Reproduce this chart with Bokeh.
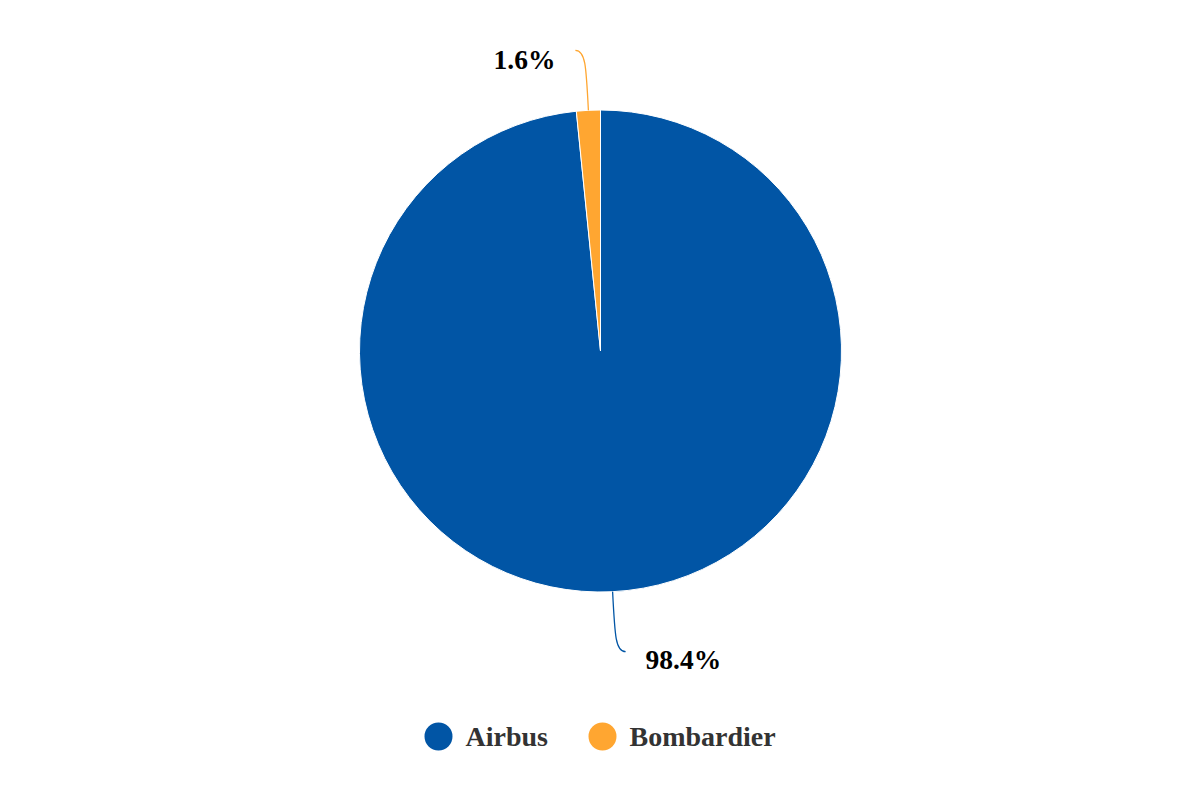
import math
from bokeh.plotting import figure
from bokeh.models import Range1d, ColumnDataSource
from bokeh.core.properties import value
from bokeh.embed import file_html
from bokeh.resources import INLINE

# ---- data ----
categories = ["Airbus", "Bombardier"]
shares = [98.4, 1.6]
colors = ["#0155A5", "#FFA631"]
labels = ["98.4%", "1.6%"]

W, H = 1184, 784
p = figure(width=W, height=H, output_backend="svg", toolbar_location=None,
           x_range=Range1d(0, W), y_range=Range1d(800 - H, 800),
           min_border=0, outline_line_color=None)
p.axis.visible = False
p.grid.visible = False
p.background_fill_color = "white"
p.border_fill_color = "white"

cx, cy = 600, 800 - 350.5
R = 241

total = sum(shares)
starts, ends, mids = [], [], []
acc = 0.0
for s in shares:
    a0 = math.pi / 2 - acc / total * 2 * math.pi
    acc += s
    a1 = math.pi / 2 - acc / total * 2 * math.pi
    starts.append(a0)
    ends.append(a1)
    mids.append((a0 + a1) / 2)

src = ColumnDataSource(dict(start=starts, end=ends, color=colors))
p.wedge(x=cx, y=cy, radius=R, start_angle="start", end_angle="end",
        direction="clock", fill_color="color", line_color="white",
        line_width=1, source=src)

# connectors and labels
for m, col, lab in zip(mids, colors, labels):
    dx, dy = math.cos(m), math.sin(m)
    x0, y0 = cx + R * dx, cy + R * dy
    side = 1 if dx >= 0 else -1
    x1c, y1c = cx + (R + 45) * dx, cy + (R + 45) * dy
    x2c, y2c = cx + (R + 60) * dx, cy + (R + 60) * dy
    x3, y3 = x2c + side * 10, y2c
    p.bezier(x0=[x0], y0=[y0], x1=[x3], y1=[y3], cx0=[x1c], cy0=[y1c],
             cx1=[x2c], cy1=[y2c], line_color=col, line_width=1.3)
    tx = x3 + side * 20
    p.text(x=[tx], y=[y3 - 8 if dy < 0 else y3 - 9], text=[lab],
           text_font=value("Liberation Serif"), text_font_style="bold",
           text_font_size="27.5px", text_color="#000000",
           text_align="left" if side > 0 else "right", text_baseline="middle")

# legend (manual)
leg_y = 800 - 736
leg_x = [438, 602]
p.scatter(x=leg_x, y=[leg_y] * 2, size=28, marker="circle",
          fill_color=colors, line_color=None)
p.text(x=[x + 27 for x in leg_x], y=[leg_y] * 2, text=categories,
       text_font=value("Liberation Serif"), text_font_style="bold",
       text_font_size="28px", text_color="#333333",
       text_align="left", text_baseline="middle")

open("out.html", "w").write(file_html(p, INLINE))
